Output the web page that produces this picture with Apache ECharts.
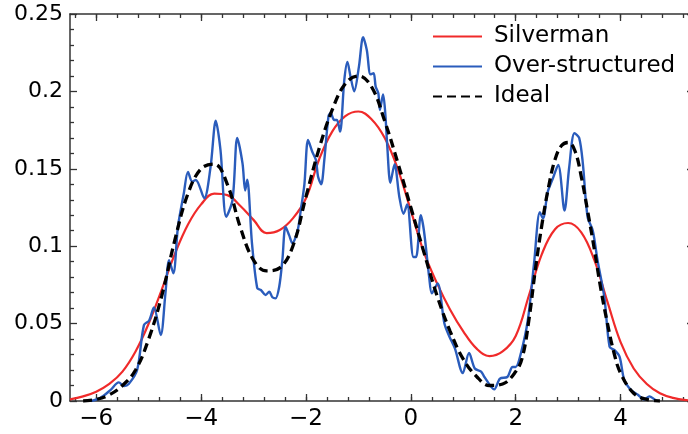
<!DOCTYPE html>
<html>
<head>
<meta charset="utf-8">
<script src="https://cdn.jsdelivr.net/npm/echarts@6/dist/echarts.min.js"></script>
<style>html,body{margin:0;padding:0;background:#fff;}#c{width:688px;height:434px;}</style>
</head>
<body>
<div id="c"></div>
<script>
// ---- data ----
const seriesNames = ['Silverman', 'Over-structured', 'Ideal'];

const silvermanX = [-6.5,-6.25,-6,-5.75,-5.5,-5.25,-5,-4.75,-4.5,-4.25,-4,-3.75,-3.5,-3.25,-3,-2.75,-2.5,-2.25,-2,-1.75,-1.5,-1.25,-1,-0.75,-0.5,-0.25,0,0.25,0.5,0.75,1,1.25,1.5,1.75,2,2.25,2.5,2.75,3,3.25,3.5,3.75,4,4.25,4.5,4.75,5,5.25,5.5];
const silvermanY = [0.001,0.003,0.006,0.011,0.019,0.032,0.050,0.072,0.095,0.114,0.127,0.134,0.133,0.126,0.117,0.1085,0.1105,0.118,0.131,0.156,0.174,0.184,0.187,0.182,0.170,0.150,0.123,0.096,0.076,0.059,0.045,0.034,0.029,0.032,0.042,0.068,0.095,0.111,0.115,0.109,0.091,0.064,0.038,0.021,0.011,0.005,0.002,0.0006,0.0002];

const overX = [-6.1,-5.92,-5.73,-5.57,-5.47,-5.38,-5.22,-5.09,-4.99,-4.9,-4.77,-4.68,-4.61,-4.53,-4.44,-4.33,-4.25,-4.17,-4.1,-3.94,-3.82,-3.72,-3.63,-3.52,-3.4,-3.31,-3.21,-3.16,-3.12,-3.03,-2.93,-2.86,-2.77,-2.7,-2.64,-2.58,-2.51,-2.45,-2.39,-2.32,-2.26,-2.16,-2.1,-2.03,-1.96,-1.88,-1.81,-1.77,-1.71,-1.65,-1.57,-1.53,-1.46,-1.41,-1.35,-1.27,-1.21,-1.15,-1.08,-0.99,-0.91,-0.84,-0.77,-0.71,-0.67,-0.62,-0.59,-0.53,-0.49,-0.45,-0.39,-0.31,-0.22,-0.14,-0.07,0.05,0.1,0.19,0.25,0.35,0.4,0.51,0.64,0.73,0.84,0.99,1.11,1.22,1.34,1.4,1.59,1.7,1.84,1.94,2.0,2.1,2.23,2.35,2.46,2.52,2.61,2.7,2.81,2.93,3.02,3.12,3.21,3.28,3.37,3.47,3.56,3.69,3.79,3.88,3.98,4.07,4.2,4.33,4.45,4.55,4.65,4.72];
const overY = [0,0.002,0.007,0.012,0.0097,0.011,0.020,0.049,0.052,0.0605,0.0426,0.0696,0.091,0.0825,0.113,0.134,0.148,0.1417,0.1428,0.131,0.151,0.181,0.162,0.119,0.130,0.170,0.1535,0.136,0.143,0.102,0.073,0.0717,0.0685,0.0706,0.067,0.0663,0.0738,0.091,0.1126,0.107,0.102,0.110,0.123,0.140,0.1686,0.161,0.1557,0.145,0.140,0.1557,0.184,0.186,0.1815,0.1815,0.174,0.207,0.219,0.2095,0.200,0.216,0.235,0.2267,0.211,0.2117,0.203,0.1988,0.188,0.198,0.187,0.165,0.141,0.153,0.132,0.121,0.127,0.093,0.093,0.120,0.110,0.080,0.0696,0.076,0.050,0.042,0.034,0.018,0.031,0.021,0.019,0.0157,0.0075,0.0145,0.0155,0.022,0.022,0.031,0.052,0.089,0.122,0.118,0.135,0.143,0.1525,0.123,0.151,0.173,0.170,0.1535,0.119,0.110,0.091,0.067,0.035,0.033,0.0286,0.0136,0.007,0.004,0.001,0.003,0.001,0];

const idealX = [-6.25,-6,-5.75,-5.5,-5.25,-5,-4.75,-4.5,-4.25,-4,-3.75,-3.5,-3.25,-3,-2.75,-2.5,-2.25,-2,-1.75,-1.5,-1.25,-1,-0.75,-0.5,-0.25,0,0.25,0.5,0.75,1,1.25,1.5,1.75,2,2.125,2.25,2.375,2.5,2.625,2.75,2.875,3,3.125,3.25,3.375,3.5,3.625,3.75,3.875,4,4.25,4.5,4.75];
const idealY = [0,0.001,0.004,0.010,0.020,0.040,0.068,0.104,0.134,0.150,0.153,0.140,0.112,0.091,0.084,0.086,0.100,0.132,0.163,0.188,0.205,0.210,0.203,0.181,0.154,0.125,0.096,0.068,0.045,0.027,0.016,0.010,0.011,0.019,0.028,0.052,0.085,0.114,0.138,0.156,0.165,0.167,0.162,0.145,0.122,0.098,0.072,0.050,0.031,0.018,0.005,0.001,0];

const xMajorTicks = [-6,-4,-2,0,2,4];
const xMinorTicks = [-6.4,-6,-5.6,-5.2,-4.8,-4.4,-4,-3.6,-3.2,-2.8,-2.4,-2,-1.6,-1.2,-0.8,-0.4,0,0.4,0.8,1.2,1.6,2,2.4,2.8,3.2,3.6,4,4.4,4.8,5.2];
const yTicks = [0,0.05,0.1,0.15,0.2,0.25];

// ---- chart ----
const pairs = (xs, ys) => xs.map((x, i) => [x, ys[i]]);
const FONT = 'DejaVu Sans';
const AXIS_COLOR = '#333';
const fmtX = v => (v < 0 ? '\u2212' + Math.abs(v) : String(v));

function xAxisDef(pos, ticks, len, labels, line) {
  return {
    type: 'value', position: pos, min: -6.5, max: 5.4,
    axisLine: { show: line, onZero: false, lineStyle: { color: AXIS_COLOR, width: 1.5 } },
    axisTick: { show: true, inside: true, length: len, customValues: ticks, lineStyle: { color: AXIS_COLOR, width: 1.3 } },
    axisLabel: { show: labels, customValues: xMajorTicks, formatter: fmtX, color: '#000', fontSize: 23, fontFamily: FONT, margin: 7 },
    splitLine: { show: false }
  };
}
function yAxisDef(pos, labels) {
  return {
    type: 'value', position: pos, min: 0, max: 0.25, interval: 0.05,
    axisLine: { show: true, onZero: false, lineStyle: { color: AXIS_COLOR, width: 1.5 } },
    axisTick: { show: true, inside: true, length: 7, customValues: yTicks, lineStyle: { color: AXIS_COLOR, width: 1.3 } },
    minorTick: { show: true, splitNumber: 5, length: 4, lineStyle: { color: AXIS_COLOR, width: 1.3 } },
    axisLabel: { show: labels, color: '#000', fontSize: 22, fontFamily: FONT, margin: 7 },
    splitLine: { show: false }, minorSplitLine: { show: false }
  };
}

const chart = echarts.init(document.getElementById('c'), null, { renderer: 'canvas' });
chart.setOption({
  animation: false,
  backgroundColor: '#fff',
  grid: { left: 70, top: 14, right: -6, bottom: 33, containLabel: false, outerBoundsMode: 'none' },
  xAxis: [
    xAxisDef('bottom', xMajorTicks, 7, true, true),
    xAxisDef('bottom', xMinorTicks, 4, false, false),
    xAxisDef('top', xMajorTicks, 7, false, true),
    xAxisDef('top', xMinorTicks, 4, false, false)
  ],
  yAxis: [ yAxisDef('left', true), yAxisDef('right', false) ],
  legend: {
    orient: 'vertical', left: 432, top: 25, padding: 0,
    itemWidth: 49, itemHeight: 14, itemGap: 7,
    itemStyle: { opacity: 0 },
    textStyle: { fontSize: 23, fontFamily: FONT, color: '#000', lineHeight: 23, padding: [0, 0, 0, 7] },
    data: seriesNames
  },
  series: [
    { name: seriesNames[0], type: 'line', xAxisIndex: 0, yAxisIndex: 0, symbol: 'none', smooth: 0.4,
      data: pairs(silvermanX, silvermanY), lineStyle: { color: '#f02a2a', width: 2.2 }, itemStyle: { color: '#f02a2a' }, z: 2 },
    { name: seriesNames[1], type: 'line', xAxisIndex: 0, yAxisIndex: 0, symbol: 'none', smooth: 0.3,
      data: pairs(overX, overY), lineStyle: { color: '#2a5cbc', width: 2.4 }, itemStyle: { color: '#2a5cbc' }, z: 3 },
    { name: seriesNames[2], type: 'line', xAxisIndex: 0, yAxisIndex: 0, symbol: 'none', smooth: 0.4,
      data: pairs(idealX, idealY), lineStyle: { color: '#000', width: 3.3, type: [9, 5] }, itemStyle: { color: '#000' }, z: 4 }
  ]
});
</script>
</body>
</html>
